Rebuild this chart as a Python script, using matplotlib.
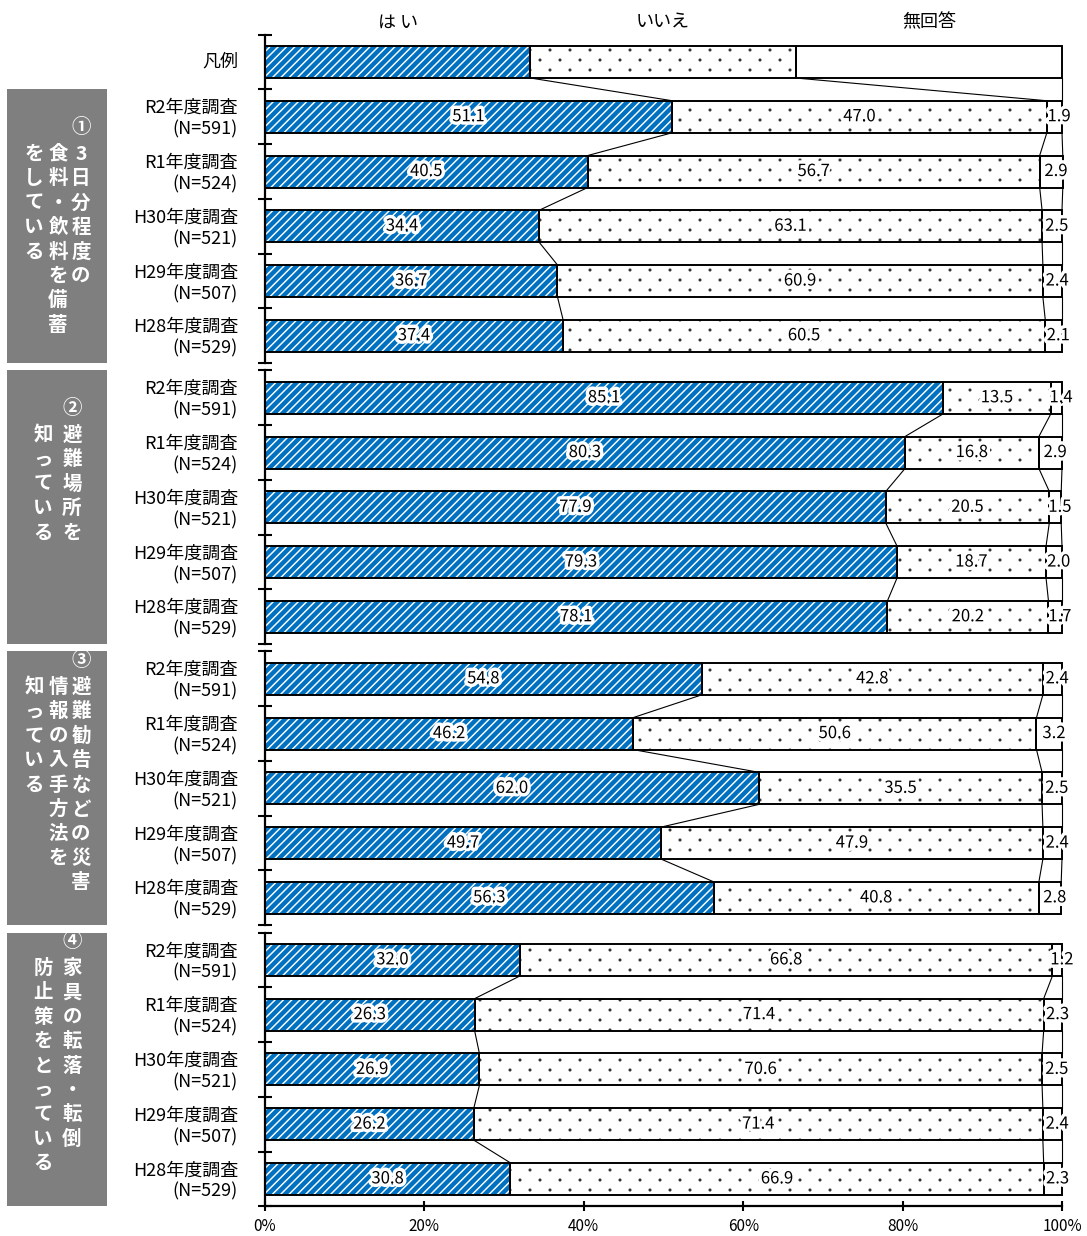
import matplotlib
matplotlib.use("Agg")
import matplotlib.pyplot as plt
import matplotlib.transforms as mtransforms
import matplotlib.patheffects as pe
import matplotlib.hatch as mhatch
from matplotlib.patches import Rectangle
from matplotlib.path import Path
import numpy as np

plt.rcParams['font.family'] = ['Noto Sans CJK JP', 'DejaVu Sans']
plt.rcParams['hatch.linewidth'] = 1.05


class SparseDots(mhatch.HatchPatternBase):
    """'.' hatch: tiny staggered dots, wider apart across than down."""
    radius = 0.008

    def __init__(self, hatch, density):
        n = hatch.count('.')
        self.nx, self.ny = 5 * n, 10 * n
        circ = Path.unit_circle()
        self.shape_vertices = circ.vertices
        self.shape_codes = circ.codes
        if n:
            self.num_shapes = (self.ny // 2 + 1) * (self.nx + 1) + (self.ny // 2) * self.nx
        else:
            self.num_shapes = 0
        self.num_vertices = self.num_shapes * len(self.shape_vertices)

    def set_vertices_and_codes(self, vertices, codes):
        shape = self.shape_vertices * self.radius
        vparts, cparts = [], []
        for row in range(self.ny + 1):
            if row % 2 == 0:
                cols = np.arange(self.nx + 1) / self.nx
            else:
                cols = (np.arange(self.nx) + 0.5) / self.nx
            for c in cols:
                vparts.append(shape + [c, row / self.ny])
                cparts.append(self.shape_codes)
        np.concatenate(vparts, out=vertices)
        np.concatenate(cparts, out=codes)


mhatch._hatch_types = [SparseDots if t is mhatch.SmallFilledCircles else t
                       for t in mhatch._hatch_types]

# survey data (percent)
answers = ['は い', 'いいえ', '無回答']
surveys = ['R2年度調査\n(N=591)', 'R1年度調査\n(N=524)', 'H30年度調査\n(N=521)',
           'H29年度調査\n(N=507)', 'H28年度調査\n(N=529)']
legend_share = [33.3, 33.3, 33.4]

hai = [[51.1, 40.5, 34.4, 36.7, 37.4],
       [85.1, 80.3, 77.9, 79.3, 78.1],
       [54.8, 46.2, 62.0, 49.7, 56.3],
       [32.0, 26.3, 26.9, 26.2, 30.8]]
iie = [[47.0, 56.7, 63.1, 60.9, 60.5],
       [13.5, 16.8, 20.5, 18.7, 20.2],
       [42.8, 50.6, 35.5, 47.9, 40.8],
       [66.8, 71.4, 70.6, 71.4, 66.9]]
mukaitou = [[1.9, 2.9, 2.5, 2.4, 2.1],
            [1.4, 2.9, 1.5, 2.0, 1.7],
            [2.4, 3.2, 2.5, 2.4, 2.8],
            [1.2, 2.3, 2.5, 2.4, 2.3]]

group_num = ['①', '②', '③', '④']
group_cols = [['3日分程度の', '食料・飲料を備蓄', 'をしている'],
              ['避難場所を', '知っている'],
              ['避難勧告などの災害', '情報の入手方法を', '知っている'],
              ['家具の転落・転倒', '防止策をとっている']]

BLUE = '#0070C0'
GRAY = '#7F7F7F'
PITCH = 54.75          # pixels per row
H = 32 / PITCH         # bar thickness in row units
GAP = 7.3 / PITCH      # extra space between groups

W, HGT = 1087, 1236
fig = plt.figure(figsize=(W / 100, HGT / 100), dpi=100)

n_rows = len(surveys)
ypos = [[1 + g * n_rows + r + g * GAP for r in range(n_rows)] for g in range(len(hai))]
y_top, y_bot = -0.5, ypos[-1][-1] + 0.5

ax_top_px, ax_bot_px = 62 - 0.5 * PITCH, 62 + y_bot * PITCH
ax = fig.add_axes([265 / W, 1 - ax_bot_px / HGT, 797 / W, (ax_bot_px - ax_top_px) / HGT])
ax.set_xlim(0, 100)
ax.set_ylim(y_bot, y_top)


def draw_bar(y, parts, labels=True):
    left = 0
    for k, w in enumerate(parts):
        if k == 0:
            ax.barh(y, w, left=left, height=H, color=BLUE, edgecolor='white',
                    hatch='////', linewidth=0, clip_on=False, zorder=2)
        elif k == 1:
            ax.barh(y, w, left=left, height=H, color='white', edgecolor='#333333',
                    hatch='.', linewidth=0, clip_on=False, zorder=2)
        else:
            ax.barh(y, w, left=left, height=H, color='white', linewidth=0,
                    clip_on=False, zorder=2)
        ax.barh(y, w, left=left, height=H, fill=False, edgecolor='black',
                linewidth=1.4, clip_on=False, zorder=3)
        if labels:
            xc = left + w / 2 if k < 2 else left + w / 2 + 0.6
            ax.text(xc, y, f'{w:.1f}', ha='center', va='center', fontsize=12,
                    zorder=5, path_effects=[pe.withStroke(linewidth=5, foreground='white')])
        left += w


def connect(y0, y1, a, b):
    ca, cb = np.cumsum(a), np.cumsum(b)
    for xa, xb in zip(ca, cb):
        ax.plot([xa, xb], [y0 + H / 2, y1 - H / 2], color='black', lw=0.8,
                clip_on=False, zorder=1)


# legend row
draw_bar(0, legend_share, labels=False)
ax.text(-3.4, 0, '凡例', ha='right', va='center', fontsize=13)
for k, name in enumerate(answers):
    ax.text(sum(legend_share[:k]) + legend_share[k] / 2, -0.72, name,
            ha='center', va='center', fontsize=13)

ticks = []
box_tf = mtransforms.blended_transform_factory(fig.transFigure, ax.transData)
for g in range(len(hai)):
    rows = [[hai[g][r], iie[g][r], mukaitou[g][r]] for r in range(n_rows)]
    prev_y, prev = (0, legend_share) if g == 0 else (None, None)
    for r in range(n_rows):
        y = ypos[g][r]
        draw_bar(y, rows[r])
        ax.text(-3.4, y + 0.04, surveys[r], ha='right', va='center', fontsize=13,
                multialignment='right', linespacing=1.25)
        if prev is not None:
            connect(prev_y, y, prev, rows[r])
        prev_y, prev = y, rows[r]

    seg0 = -0.5 if g == 0 else ypos[g][0] - 0.5
    seg1 = ypos[g][-1] + 0.5
    ax.plot([0, 0], [seg0, seg1], color='black', lw=1.6, clip_on=False, zorder=4)
    ticks += list(np.arange(seg0, seg1 + 0.01, 1.0))

    # grey heading box with vertical text
    b0 = ypos[g][0] - 0.5
    ax.add_patch(Rectangle((7 / W, b0), 100 / W, seg1 - b0, transform=box_tf,
                           facecolor=GRAY, edgecolor='none', clip_on=False))
    cols = group_cols[g]
    col_x = [81, 58, 34] if len(cols) == 3 else [72, 43]
    off = 38 if g < 2 else 9
    ax.text(col_x[0] / W, b0 + off / PITCH, group_num[g], transform=box_tf,
            ha='center', va='center', fontsize=14, color='white', fontweight='bold')
    for c, col in enumerate(cols):
        for i, ch in enumerate(col):
            ax.text(col_x[c] / W, b0 + (off + 27 + i * 24.4) / PITCH, ch,
                    transform=box_tf, ha='center', va='center', fontsize=14,
                    color='white', fontweight='bold')

ax.set_yticks(ticks)
ax.set_yticklabels([])
ax.tick_params(axis='y', direction='inout', length=9.5, width=1.5, color='black')

ax.set_xticks([0, 20, 40, 60, 80, 100])
ax.set_xticklabels(['0%', '20%', '40%', '60%', '80%', '100%'], fontsize=11)
ax.tick_params(axis='x', direction='inout', length=7, width=1.5, pad=5)

for side in ['left', 'right', 'top']:
    ax.spines[side].set_visible(False)
ax.spines['bottom'].set_linewidth(1.6)
ax.patch.set_visible(False)

fig.savefig('out.png', dpi=100)
